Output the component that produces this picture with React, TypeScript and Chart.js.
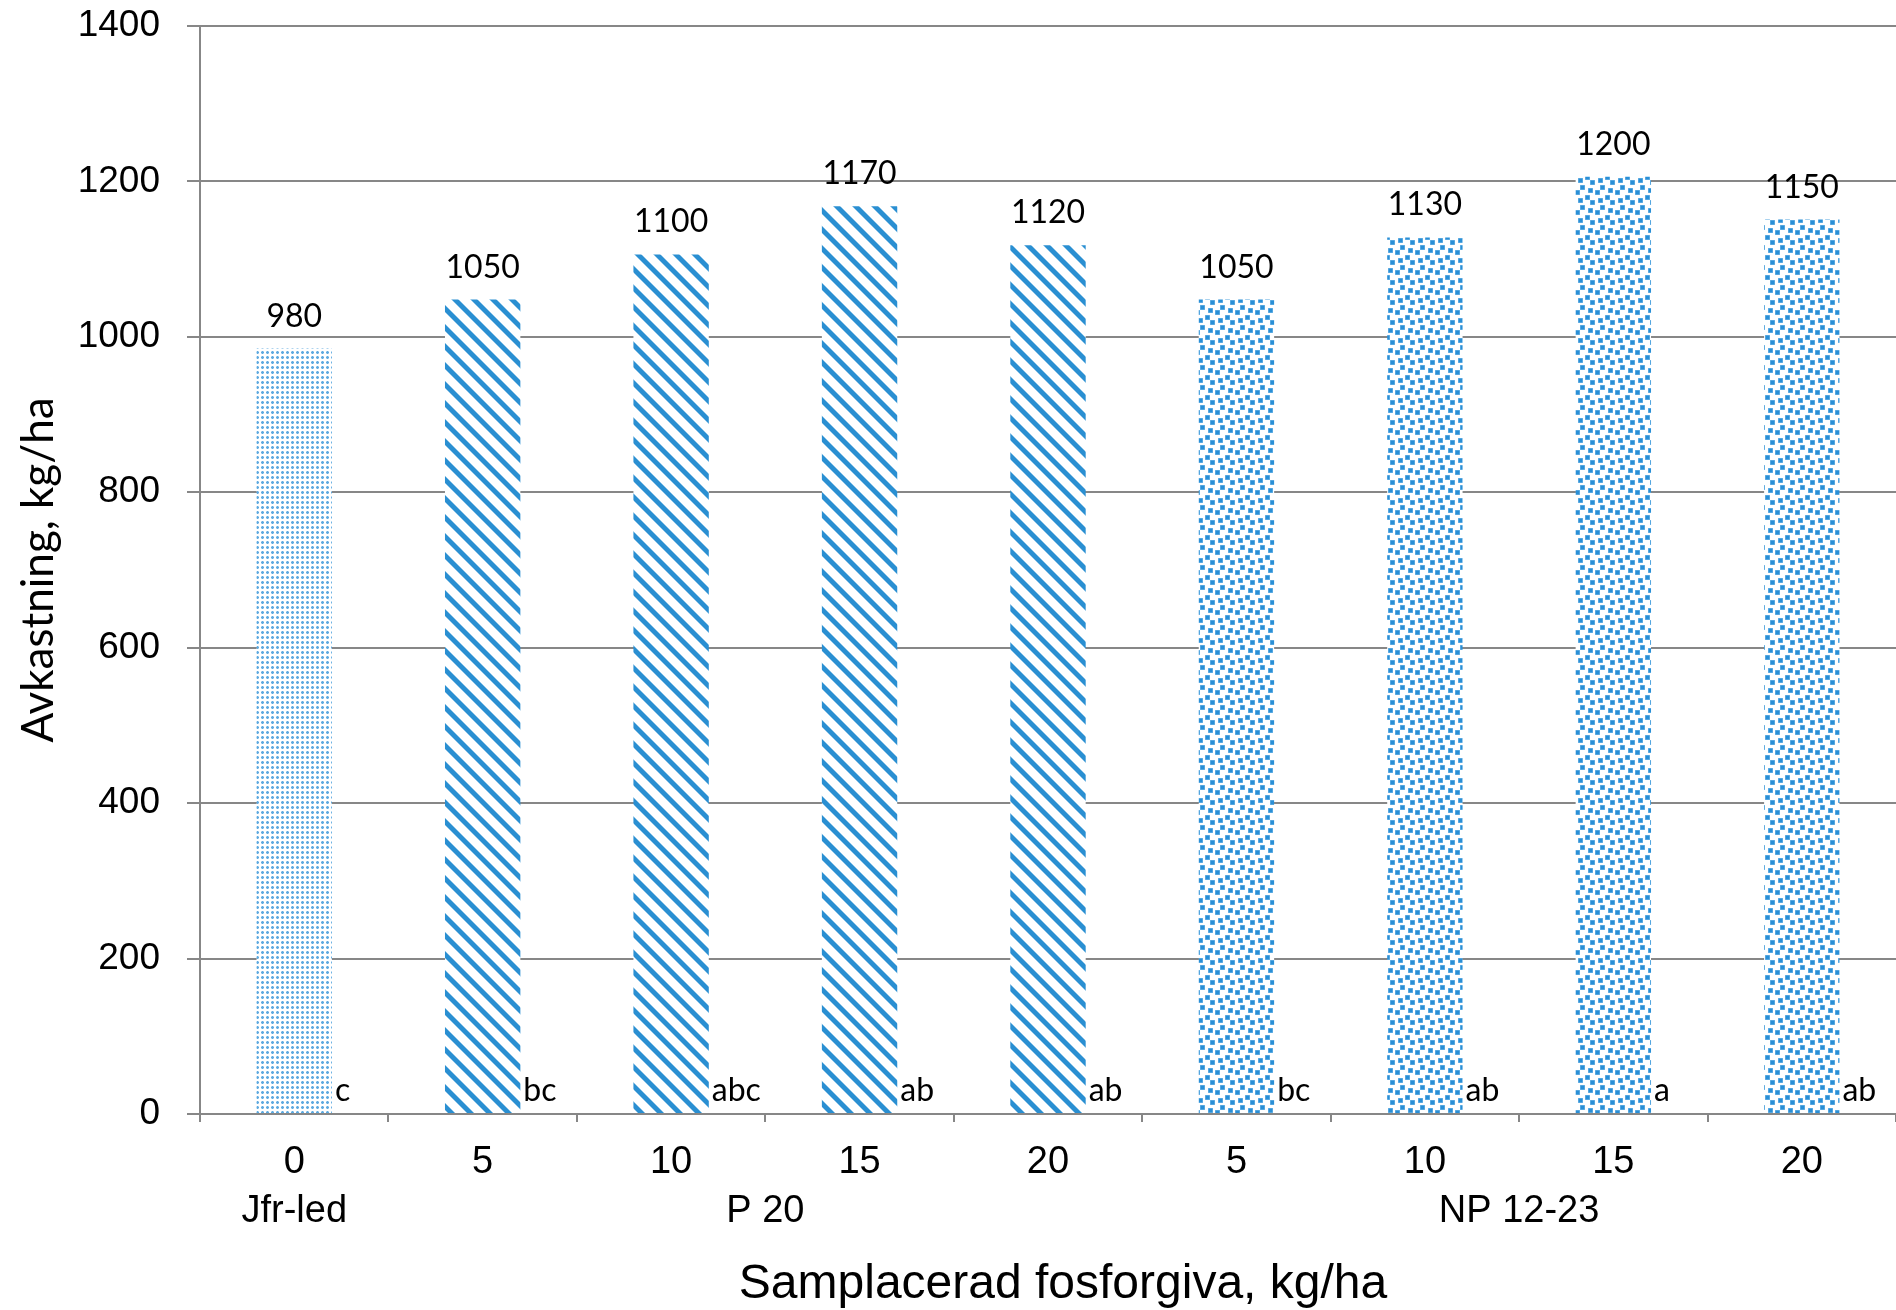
import React, { useEffect, useRef } from 'react';
import { Chart, registerables } from 'chart.js';

Chart.register(...registerables);

// ---- data ----
const categories = ['0', '5', '10', '15', '20', '5', '10', '15', '20'];
const yieldValues = [985, 1048, 1106, 1168, 1118, 1048, 1128, 1206, 1151];
const valueLabels = ['980', '1050', '1100', '1170', '1120', '1050', '1130', '1200', '1150'];
const letterLabels = ['c', 'bc', 'abc', 'ab', 'ab', 'bc', 'ab', 'a', 'ab'];
const groupNames = ['Jfr-led', 'P 20', 'NP 12-23'];
const groupStart = [0, 1, 5];
const groupEnd = [0, 4, 8];
const barPatterns = ['dots', 'stripes', 'stripes', 'stripes', 'stripes', 'confetti', 'confetti', 'confetti', 'confetti'];
const yMin = 0;
const yMax = 1400;
const yStep = 200;
const yTitle = 'Avkastning, kg/ha';
const xTitle = 'Samplacerad fosforgiva, kg/ha';

const BLUE = '#2a8fd2';
const GRID = '#878787';
const AXIS_FONT = '"Liberation Sans", Arial, sans-serif';
const LABEL_FONT = 'Lato, "Open Sans", sans-serif';

function tile(size: number, draw: (g: CanvasRenderingContext2D) => void) {
  const c = document.createElement('canvas');
  c.width = size;
  c.height = size;
  const g = c.getContext('2d')!;
  g.fillStyle = '#ffffff';
  g.fillRect(0, 0, size, size);
  draw(g);
  return c;
}

function makePatterns(ctx: CanvasRenderingContext2D) {
  const stripes = tile(19, (g) => {
    const S = 19;
    const w = 7;
    g.fillStyle = BLUE;
    for (let k = -1; k <= 1; k++) {
      g.beginPath();
      g.moveTo(k * S, 0);
      g.lineTo(k * S + w, 0);
      g.lineTo(k * S + w + S, S);
      g.lineTo(k * S + S, S);
      g.closePath();
      g.fill();
    }
  });
  const confetti = tile(20, (g) => {
    const b = 2.5;
    const T = 20;
    const blocks = [[4, 0], [7, 7], [0, 2], [3, 3], [6, 4], [2, 6]];
    blocks.forEach(([bx, by]) => {
      for (let dx = -1; dx <= 1; dx++) {
        for (let dy = -1; dy <= 1; dy++) {
          const x = Math.round(bx * b + dx * T);
          const y = Math.round(by * b + dy * T);
          g.fillStyle = '#7fbde8';
          g.fillRect(x, y, 5, 5);
          g.fillStyle = '#2a8fd6';
          g.fillRect(x + 0.5, y + 0.5, 4, 4);
        }
      }
    });
  });
  const dots = tile(5, (g) => {
    g.fillStyle = '#b3d7f1';
    g.fillRect(1, 1, 3, 3);
    g.fillStyle = '#5eaae0';
    g.fillRect(2, 1, 1, 3);
    g.fillRect(1, 2, 3, 1);
  });
  return {
    stripes: ctx.createPattern(stripes, 'repeat')!,
    confetti: ctx.createPattern(confetti, 'repeat')!,
    dots: ctx.createPattern(dots, 'repeat')!,
  } as Record<string, CanvasPattern>;
}

const labelPlugin = {
  id: 'barLabels',
  afterDatasetsDraw(chart: any) {
    const ctx: CanvasRenderingContext2D = chart.ctx;
    const meta = chart.getDatasetMeta(0);
    const ys = chart.scales.y;
    const xs = chart.scales.x;
    const y0 = ys.getPixelForValue(0);
    ctx.save();
    ctx.fillStyle = '#000';
    ctx.font = `32px ${LABEL_FONT}`;
    ctx.textBaseline = 'alphabetic';
    meta.data.forEach((bar: any, i: number) => {
      const { x, y, width } = bar.getProps(['x', 'y', 'width'], true);
      ctx.textAlign = 'center';
      ctx.fillText(valueLabels[i], x, y - 22);
      ctx.textAlign = 'left';
      ctx.fillText(letterLabels[i], x + width / 2 + 3, y0 - 13);
    });
    ctx.font = `38px ${AXIS_FONT}`;
    ctx.textAlign = 'center';
    groupNames.forEach((name, g) => {
      const cx = (xs.getPixelForValue(groupStart[g]) + xs.getPixelForValue(groupEnd[g])) / 2;
      ctx.fillText(name, cx, xs.top + 108);
    });
    // x axis title
    ctx.font = `48px ${AXIS_FONT}`;
    const area = chart.chartArea;
    ctx.fillText(xTitle, (area.left + area.right) / 2 + 15, xs.top + 184);
    ctx.restore();
  },
};

export default function App() {
  const ref = useRef<HTMLCanvasElement>(null);
  useEffect(() => {
    const canvas = ref.current!;
    const ctx = canvas.getContext('2d')!;
    const pats = makePatterns(ctx);
    const chart = new Chart(ctx, {
      type: 'bar',
      data: {
        labels: categories,
        datasets: [
          {
            data: yieldValues,
            backgroundColor: barPatterns.map((p) => pats[p]),
            borderWidth: 0,
            categoryPercentage: 1,
            barPercentage: 0.4,
          },
        ],
      },
      options: {
        animation: false,
        responsive: false,
        devicePixelRatio: 1,
        layout: { padding: { top: 26, right: -5, bottom: 0, left: 0 } },
        plugins: { legend: { display: false }, tooltip: { enabled: false } },
        scales: {
          x: {
            offset: true,
            grid: {
              offset: true,
              drawOnChartArea: false,
              drawTicks: true,
              tickLength: 8,
              color: GRID,
              lineWidth: 2,
            },
            border: { display: true, color: GRID, width: 2 },
            ticks: {
              color: '#000',
              font: { family: AXIS_FONT, size: 38 },
              padding: 18,
              maxRotation: 0,
              autoSkip: false,
            },
            afterFit: (scale: any) => {
              scale.height = 196;
            },
          },
          y: {
            min: yMin,
            max: yMax,
            ticks: {
              stepSize: yStep,
              color: '#000',
              font: { family: AXIS_FONT, size: 37 },
              padding: 27,
              callback: (v: any) => String(v),
            },
            grid: {
              color: GRID,
              lineWidth: 2,
              drawTicks: true,
              tickLength: 13,
            },
            border: { display: true, color: GRID, width: 2 },
            title: {
              display: true,
              text: yTitle,
              color: '#000',
              font: { family: LABEL_FONT, size: 44 },
              padding: { top: 12, bottom: 0 },
            },
            afterFit: (scale: any) => {
              scale.width = 200;
              scale.paddingTop = 0;
              scale.paddingBottom = 0;
            },
          },
        },
      },
      plugins: [labelPlugin],
    } as any);
    return () => chart.destroy();
  }, []);
  return (
    <div style={{ position: 'absolute', left: 0, top: 0, width: 1896, height: 1310, background: '#fff' }}>
      <canvas ref={ref} width={1896} height={1310} style={{ display: 'block', width: 1896, height: 1310 }} />
    </div>
  );
}
